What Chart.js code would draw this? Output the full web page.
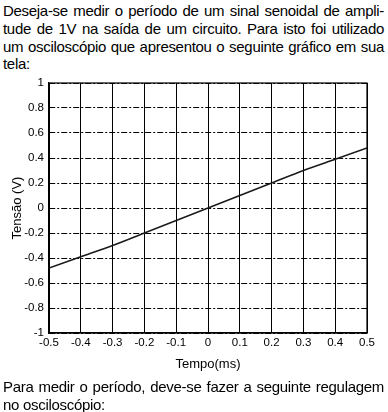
<!DOCTYPE html>
<html>
<head>
<meta charset="utf-8">
<script src="https://cdn.jsdelivr.net/npm/chart.js@4"></script>
<style>
    body { margin: 0; background: #fff; width: 388px; height: 412px; overflow: hidden; position: relative;
           font-family: "Liberation Sans", Arial, sans-serif; color: #000; }
    .txt { position: absolute; left: 3px; width: 381px; font-size: 15px; line-height: 17.8px; letter-spacing: -0.3px; }
    .txt div { text-align: justify; text-align-last: justify; white-space: nowrap; }
    .txt div.last { text-align-last: left; }
    #wrap { position: absolute; left: 0; top: 70px; width: 388px; height: 310px; }
</style>
</head>
<body>
<div class="txt" style="top:2px">
    <div>Deseja-se medir o período de um sinal senoidal de ampli-</div>
    <div>tude de 1V na saída de um circuito. Para isto foi utilizado</div>
    <div>um osciloscópio que apresentou o seguinte gráfico em sua</div>
    <div class="last">tela:</div>
</div>
<div id="wrap"><canvas id="myChart"></canvas></div>
<div class="txt" style="top:378px">
    <div>Para medir o período, deve-se fazer a seguinte regulagem</div>
    <div class="last">no osciloscópio:</div>
</div>
<script>
// valori (tempo in ms, tensione in V)
const tempo = [-0.5, -0.4, -0.3, -0.2, -0.1, 0, 0.1, 0.2, 0.3, 0.4, 0.5];
const tensao = [-0.48, -0.39, -0.3, -0.2, -0.1, 0, 0.1, 0.2, 0.3, 0.39, 0.48];
const xTicks = [-0.5, -0.4, -0.3, -0.2, -0.1, 0, 0.1, 0.2, 0.3, 0.4, 0.5];
const yTicks = [-1, -0.8, -0.6, -0.4, -0.2, 0, 0.2, 0.4, 0.6, 0.8, 1];

const fontTick = { family: 'Liberation Sans', size: 11.5 };
const fontTitle = { family: 'Liberation Sans', size: 13 };

// cornice del riquadro del grafico
const boxPlugin = {
    id: 'box',
    afterDraw(chart) {
        const a = chart.chartArea;
        const ctx = chart.ctx;
        ctx.save();
        ctx.strokeStyle = '#000';
        ctx.lineWidth = 1.2;
        ctx.strokeRect(a.left, a.top, a.right - a.left, a.bottom - a.top);
        ctx.restore();
    }
};

const ctx = document.getElementById('myChart').getContext('2d');
const myChart = new Chart(ctx, {
    type: 'line',
    data: {
        datasets: [{
            data: tempo.map((t, i) => ({ x: t, y: tensao[i] })),
            borderColor: '#1a1a1a',
            borderWidth: 1.5,
            pointRadius: 0,
            cubicInterpolationMode: 'monotone',
        }]
    },
    options: {
        responsive: true,
        maintainAspectRatio: false,
        animation: false,
        layout: { padding: { top: 13, right: 21, left: 0, bottom: 0 } },
        plugins: { legend: { display: false }, tooltip: { enabled: false } },
        scales: {
            x: {
                type: 'linear',
                min: -0.5,
                max: 0.5,
                afterBuildTicks: s => { s.ticks = xTicks.map(v => ({ value: v })); },
                afterFit: s => { s.height = 47; },
                ticks: {
                    font: fontTick, color: '#000', padding: 3, maxRotation: 0,
                    callback: v => String(Math.round(v * 10) / 10)
                },
                grid: { color: '#000', lineWidth: 1, drawTicks: false },
                border: { color: '#000', width: 1.2 },
                title: { display: true, text: 'Tempo(ms)', font: fontTitle, color: '#000', padding: { top: 0, bottom: 8 } }
            },
            y: {
                type: 'linear',
                min: -1,
                max: 1,
                afterBuildTicks: s => { s.ticks = yTicks.map(v => ({ value: v })); },
                afterFit: s => { s.width = 49; },
                ticks: {
                    font: fontTick, color: '#000', padding: 5,
                    callback: v => String(Math.round(v * 10) / 10)
                },
                grid: { color: '#000', lineWidth: 1, drawTicks: false },
                border: { color: '#000', width: 1.2, dash: [6, 2, 2, 2] },
                title: { display: true, text: 'Tensão (V)', font: fontTitle, color: '#000', padding: { top: 10, bottom: 0 } }
            }
        }
    },
    plugins: [boxPlugin]
});
</script>
</body>
</html>
